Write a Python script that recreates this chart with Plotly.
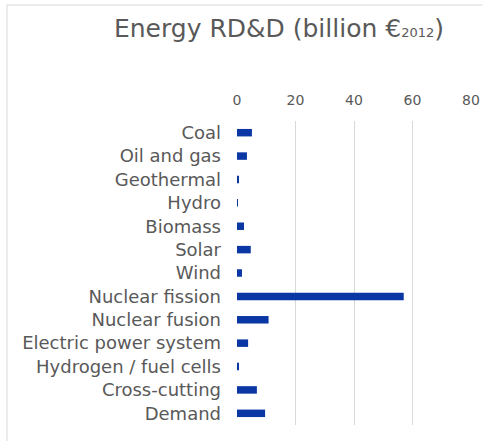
import plotly.graph_objects as go

categories = ["Coal", "Oil and gas", "Geothermal", "Hydro", "Biomass", "Solar", "Wind",
              "Nuclear fission", "Nuclear fusion", "Electric power system",
              "Hydrogen / fuel cells", "Cross-cutting", "Demand"]
values = [5.1, 3.4, 0.6, 0.3, 2.4, 4.7, 1.7, 57.0, 10.8, 3.8, 0.6, 6.8, 9.6]
x_ticks = [0, 20, 40, 60, 80]

fig = go.Figure(
    go.Bar(
        x=values, y=categories, orientation="h",
        marker_color="#0a37a3", marker_line_width=0,
    )
)

# outer chart frame, left and top edges (plot area is 234 x 304 px)
frame = dict(type="line", xref="paper", yref="paper",
             line=dict(color="#d9d9d9", width=1), layer="below")
fig.add_shape(x0=-230 / 234, x1=-230 / 234, y0=-20 / 304, y1=420 / 304, **frame)
fig.add_shape(x0=-230 / 234, x1=1.05, y0=420 / 304, y1=420 / 304, **frame)

fig.update_layout(
    width=492, height=441,
    paper_bgcolor="white", plot_bgcolor="white",
    margin=dict(l=237, r=21, t=121, b=16),
    bargap=0.68,
    showlegend=False,
    font=dict(family="DejaVu Sans", color="#595959"),
    title=dict(text="Energy RD&D (billion €<span style='font-size:13px'>2012</span>)",
               x=0.567, xanchor="center", y=0.935, yanchor="middle",
               font=dict(size=25, color="#595959")),
)
fig.update_xaxes(
    side="top", range=[0, 80], tickvals=x_ticks,
    showgrid=True, gridcolor="#d9d9d9", gridwidth=1,
    zeroline=False, showline=False, automargin=False,
    tickfont=dict(size=14, color="#595959"),
    ticklabelstandoff=12,
)
fig.update_yaxes(
    autorange="reversed", showgrid=False, showline=False, zeroline=False,
    automargin=False,
    tickfont=dict(size=18, color="#595959"),
    ticklabelstandoff=15,
)
fig.write_html("out.html", config={"displayModeBar": False},
               post_script="document.body.style.margin='0';"
                           "document.body.style.overflow='hidden';")
